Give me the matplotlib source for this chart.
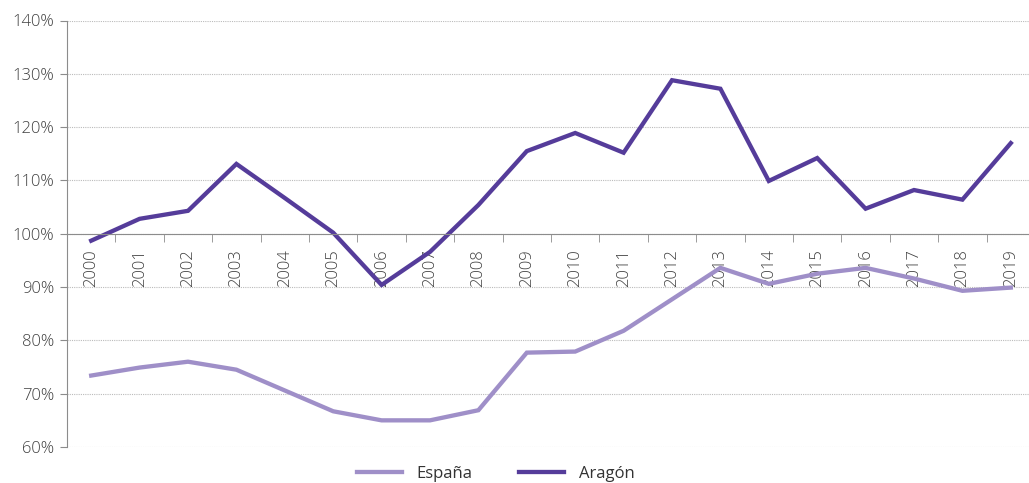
import numpy as np
import matplotlib
matplotlib.use('Agg')
import matplotlib.pyplot as plt
from matplotlib.ticker import FuncFormatter, FixedLocator

# data (ratio, 1.0 = 100%)
years = [str(y) for y in range(2000, 2020)]
espana = [0.734, 0.749, 0.760, 0.745, 0.706, 0.667, 0.650, 0.650, 0.669, 0.777,
          0.779, 0.818, 0.877, 0.936, 0.906, 0.925, 0.936, 0.916, 0.893, 0.899]
aragon = [0.987, 1.028, 1.043, 1.131, 1.067, 1.002, 0.904, 0.966, 1.054, 1.155,
          1.189, 1.152, 1.288, 1.272, 1.099, 1.142, 1.047, 1.082, 1.064, 1.170]

plt.rcParams['font.family'] = ['Open Sans', 'DejaVu Sans']

fig = plt.figure(figsize=(10.29, 4.83), dpi=100)
ax = fig.add_axes([67/1029, 1-447/483, (1035-67)/1029, (447-20.5)/483])

x = np.arange(len(years))
ax.plot(x, espana, color='#9f8fc8', lw=3.1, solid_joinstyle='miter', label='España')
ax.plot(x, aragon, color='#553c9a', lw=3.1, solid_joinstyle='miter', label='Aragón')

ax.set_xlim(-0.5, len(years) - 0.5)
ax.set_ylim(0.6, 1.4)

ax.yaxis.set_major_locator(FixedLocator(np.arange(0.6, 1.41, 0.1)))
ax.yaxis.set_major_formatter(FuncFormatter(lambda v, p: '%d%%' % round(v * 100)))
ax.grid(axis='y', color='#bbbbbb', ls=(0, (1, 1)), lw=0.8)
ax.set_axisbelow(True)

# category axis crosses at 100%
ax.spines['top'].set_visible(False)
ax.spines['right'].set_visible(False)
ax.spines['bottom'].set_position(('data', 1.0))
ax.spines['bottom'].set_color('#8c8c8c')
ax.spines['left'].set_color('#8c8c8c')

ax.set_xticks(x)
ax.set_xticklabels(years, rotation=90, fontweight='light')
ax.set_xticks(np.arange(-0.5, len(years) + 0.5, 1), minor=True)
ax.tick_params(axis='x', which='major', length=0, pad=11, labelsize=12, labelcolor='#404040')
ax.tick_params(axis='x', which='minor', length=6, color='#8c8c8c', direction='out')
ax.tick_params(axis='y', length=5, color='#8c8c8c', labelsize=12, labelcolor='#404040', pad=4)
for t in ax.get_yticklabels():
    t.set_fontweight('light')

fig.legend(loc='center', bbox_to_anchor=(496/1029, 1-474/483), ncol=2, frameon=False,
           fontsize=12, handlelength=2.7, handletextpad=0.9, columnspacing=2.8,
           labelcolor='#333333')

fig.savefig('out.png', dpi=100)
